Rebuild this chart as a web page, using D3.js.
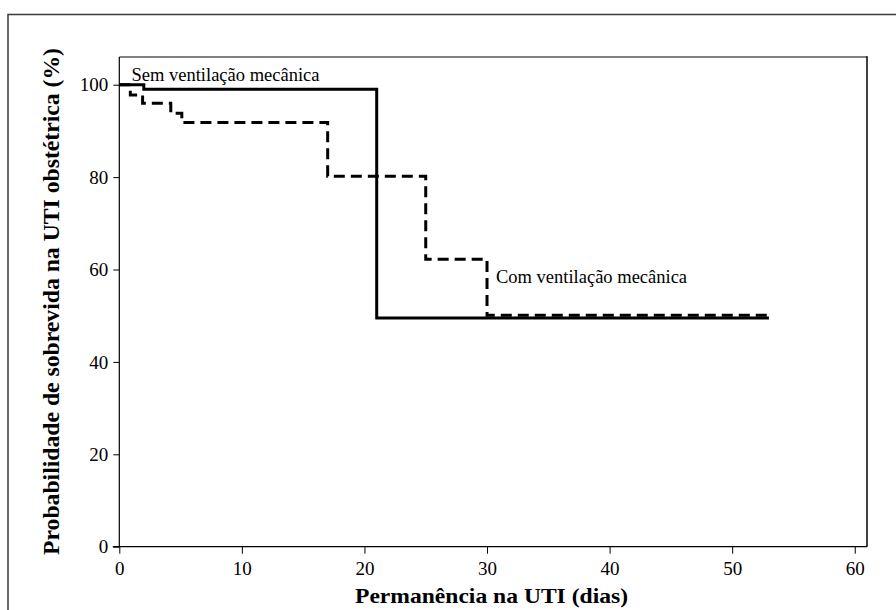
<!DOCTYPE html>
<html>
<head>
<meta charset="utf-8">
<script src="https://cdn.jsdelivr.net/npm/d3@7"></script>
<style>
  body { margin: 0; background: #fff; }
  svg { display: block; }
  text { font-family: "Liberation Serif", "Times New Roman", serif; fill: #000; }
</style>
</head>
<body>
<script>
// Kaplan-Meier curves
const timeSem = [0, 2, 21, 53];
const survSem = [100, 99, 49.5, 49.5];
const timeCom = [0, 0.9, 1.9, 4.2, 5.1, 17, 25, 30, 53];
const survCom = [100, 97.8, 96, 93.8, 91.8, 80.2, 62.2, 50.1, 50.1];

const xTicks = [0, 10, 20, 30, 40, 50, 60];
const yTicks = [0, 20, 40, 60, 80, 100];

const labelSem = "Sem ventilação mecânica";
const labelCom = "Com ventilação mecânica";
const xTitle = "Permanência na UTI (dias)";
const yTitle = "Probabilidade de sobrevida na UTI obstétrica (%)";

const W = 896, H = 610;
const plot = { left: 119.3, right: 867, top: 57, bottom: 546.7 };

const svg = d3.select("body").append("svg")
    .attr("width", W)
    .attr("height", H);

// outer frame (runs off the right / bottom of the picture)
svg.append("rect")
    .attr("x", 8).attr("y", 14.5)
    .attr("width", 1000).attr("height", 1000)
    .attr("fill", "none")
    .attr("stroke", "#3a3a3a")
    .attr("stroke-width", 1.5);

const x = d3.scaleLinear().domain([0, 61]).range([plot.left, plot.right]);
const y = d3.scaleLinear().domain([0, 106]).range([plot.bottom, plot.top]);

// plot box top and right
svg.append("line")
    .attr("x1", plot.left).attr("x2", plot.right)
    .attr("y1", plot.top).attr("y2", plot.top)
    .attr("stroke", "#555").attr("stroke-width", 1.5);
svg.append("line")
    .attr("x1", plot.right).attr("x2", plot.right)
    .attr("y1", plot.top - 0.7).attr("y2", plot.bottom)
    .attr("stroke", "#000").attr("stroke-width", 1.5);

// axes
const xAxis = svg.append("g")
    .attr("transform", `translate(0,${plot.bottom})`)
    .call(d3.axisBottom(x).tickValues(xTicks).tickSize(7).tickSizeOuter(0).tickPadding(8));
xAxis.select(".domain").remove();
xAxis.selectAll("text").attr("font-size", 19).attr("font-family", "Liberation Serif");

svg.append("line")
    .attr("x1", plot.left - 6.5).attr("x2", plot.right)
    .attr("y1", plot.bottom).attr("y2", plot.bottom)
    .attr("stroke", "#000").attr("stroke-width", 1.2);

const yAxis = svg.append("g")
    .attr("transform", `translate(${plot.left},0)`)
    .call(d3.axisLeft(y).tickValues(yTicks).tickSize(6).tickSizeOuter(0).tickPadding(5));
yAxis.select(".domain").remove();
yAxis.selectAll("text").attr("font-size", 19).attr("font-family", "Liberation Serif");

svg.append("line")
    .attr("x1", plot.left).attr("x2", plot.left)
    .attr("y1", plot.top).attr("y2", plot.bottom)
    .attr("stroke", "#000").attr("stroke-width", 1.2);

// survival curves
const step = d3.line()
    .x(d => x(d[0]))
    .y(d => y(d[1]))
    .curve(d3.curveStepAfter);

svg.append("path")
    .datum(d3.zip(timeCom, survCom))
    .attr("d", step)
    .attr("fill", "none")
    .attr("stroke", "#000")
    .attr("stroke-width", 3)
    .attr("stroke-dasharray", "11,6");

svg.append("path")
    .datum(d3.zip(timeSem, survSem))
    .attr("d", step)
    .attr("fill", "none")
    .attr("stroke", "#000")
    .attr("stroke-width", 3);

// curve labels
svg.append("text")
    .attr("x", 131.5).attr("y", 80.7)
    .attr("font-size", 18.5)
    .text(labelSem);

svg.append("text")
    .attr("x", 496).attr("y", 283)
    .attr("font-size", 18.5)
    .text(labelCom);

// axis titles
svg.append("text")
    .attr("x", 491.5).attr("y", 603)
    .attr("text-anchor", "middle")
    .attr("font-size", 21)
    .attr("font-weight", "bold")
    .attr("textLength", 273)
    .attr("lengthAdjust", "spacingAndGlyphs")
    .text(xTitle);

svg.append("text")
    .attr("transform", "translate(59,301.5) rotate(-90)")
    .attr("text-anchor", "middle")
    .attr("font-size", 24)
    .attr("font-weight", "bold")
    .attr("textLength", 507)
    .attr("lengthAdjust", "spacingAndGlyphs")
    .text(yTitle);
</script>
</body>
</html>
